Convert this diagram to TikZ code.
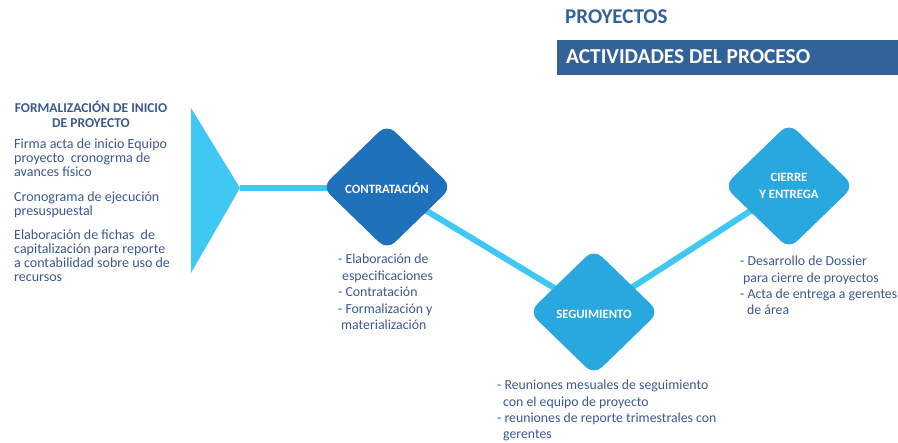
\documentclass[tikz,border=0pt]{standalone}
\usepackage{fontspec}
\setmainfont{Carlito}
\usetikzlibrary{shapes.geometric,backgrounds}
\definecolor{lineblue}{RGB}{62,200,242}
\definecolor{darkdia}{RGB}{31,113,188}
\definecolor{middia}{RGB}{41,168,224}
\definecolor{txt}{RGB}{59,89,140}
\definecolor{hdr}{RGB}{51,98,153}
\begin{document}
\begin{tikzpicture}[x=1pt,y=-1pt,
  dia/.style={diamond, aspect=1, inner sep=0pt, rounded corners=11pt,
    minimum width=130pt, minimum height=126pt, text=white,
    font=\fontsize{12.7}{17}\selectfont\bfseries, align=center},
  lowtext/.style={text height=13.5pt, text depth=0pt},
  conn/.style={draw=lineblue, line width=6pt},
  body/.style={text=txt, font=\fontsize{14}{13.8}\selectfont, align=left,
    inner sep=0pt, anchor=north west},
  list/.style={body, font=\fontsize{13.8}{16.5}\selectfont},
]
\useasboundingbox (0,0) rectangle (898,443);

% header
\node[anchor=base west, text=hdr, font=\fontsize{21}{24}\selectfont\bfseries, inner sep=0pt] (proj) at (565,24) {PROYECTOS};
\node[fill=hdr, anchor=north west, minimum width=341pt, minimum height=35pt, inner sep=0pt] (bar) at (557,40) {};
\node[anchor=base west, text=white, font=\fontsize{21.3}{24}\selectfont\bfseries, inner sep=0pt] (act) at (566,64) {ACTIVIDADES DEL PROCESO};

% left text
\node[text=txt, font=\fontsize{13.5}{15.5}\selectfont\bfseries, align=center, inner sep=0pt, anchor=north] (t0) at (91,100.5) {FORMALIZACIÓN DE INICIO\\DE PROYECTO};
\node[body] (p1) at (14,138.7) {Firma acta de inicio Equipo\\proyecto\ \ cronogrma de\\avances físico};
\node[body] (p2) at (14,191.7) {Cronograma de ejecución\\presuspuestal};
\node[body] (p3) at (14,229.7) {Elaboración de fichas\ \ de\\capitalización para reporte\\a contabilidad sobre uso de\\recursos};

% triangle
\fill[lineblue] (191,108) -- (191,273) -- (240,188) -- cycle;
\coordinate (apex) at (240,188);

% diamonds
\node[dia, lowtext, fill=darkdia] (c) at (387,187) {CONTRATACIÓN};
\node[dia, lowtext, fill=middia] (s) at (594,312) {SEGUIMIENTO};
\node[dia, fill=middia] (e) at (789,186) {CIERRE\\Y ENTREGA};

\begin{pgfonlayer}{background}
\draw[conn] (apex) -- (apex -| c.center);
\draw[conn] (c.center) -- (s.center);
\draw[conn] (s.center) -- (e.center);
\end{pgfonlayer}

% lists
\node[list] (lc) at (338,254) {- Elaboración de\\\hspace*{4pt}especificaciones\\- Contratación\\- Formalización y\\\hspace*{3pt}materialización};
\node[list, font=\fontsize{13.8}{16.3}\selectfont] (ls) at (497,380) {- Reuniones mesuales de seguimiento\\\hspace*{6pt}con el equipo de proyecto\\- reuniones de reporte trimestrales con\\\hspace*{6pt}gerentes};
\node[list, font=\fontsize{13.8}{16.3}\selectfont] (le) at (740,256) {- Desarrollo de Dossier\\\hspace*{3pt}para cierre de proyectos\\- Acta de entrega a gerentes\\\hspace*{7pt}de área};
\end{tikzpicture}
\end{document}
